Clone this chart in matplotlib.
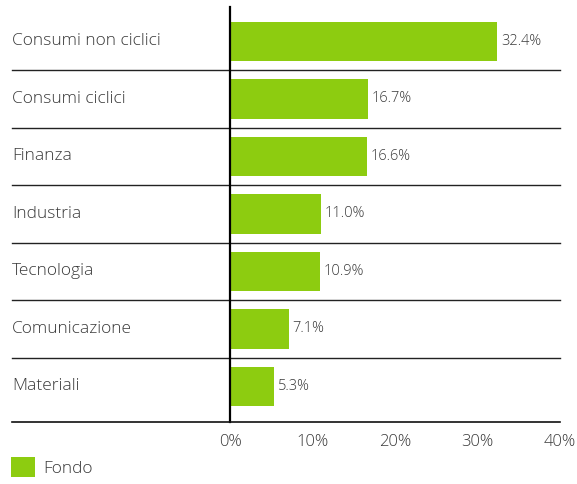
import matplotlib
matplotlib.use("Agg")
import matplotlib.pyplot as plt
import matplotlib.transforms as mtransforms

categories = ["Consumi non ciclici", "Consumi ciclici", "Finanza", "Industria",
              "Tecnologia", "Comunicazione", "Materiali"]
values = [32.4, 16.7, 16.6, 11.0, 10.9, 7.1, 5.3]
xticks = [0, 10, 20, 30, 40]
xtick_labels = ["0%", "10%", "20%", "30%", "40%"]
series_name = "Fondo"

plt.rcParams['font.family'] = ['Open Sans', 'DejaVu Sans']
TEXT = "#3a3a3a"
GREEN = "#8DCC10"

W, H = 577, 484
fig = plt.figure(figsize=(W / 100, H / 100), dpi=100)
ax = fig.add_axes([230 / W, 1 - 422 / H, 330 / W, 415 / H])

ypos = list(range(len(categories)))
bars = ax.barh(ypos, values, height=0.69, color=GREEN, label=series_name, zorder=2)
ax.set_xlim(0, 40)
ax.set_ylim(6.62, -0.6)

for y, v in zip(ypos, values):
    ax.annotate(f"{v:.1f}%", (v, y), xytext=(3, 0), textcoords="offset points",
                va="center", ha="left", fontsize=10.5, color=TEXT, fontweight="light")

# separators between categories, extending to the left of the axis
left_frac = (12 - 230) / 330
for i in range(len(categories) - 1):
    ax.axhline(i + 0.5, xmin=left_frac, xmax=1, color="#222222", lw=1.0, clip_on=False, zorder=1)
ax.axhline(6.62, xmin=left_frac, xmax=1, color="#111111", lw=1.2, clip_on=False, zorder=3)

# category labels, left aligned at x=12px
trans = mtransforms.blended_transform_factory(fig.transFigure, ax.transData)
for y, c in zip(ypos, categories):
    ax.text(12 / W, y, c, transform=trans, ha="left", va="center", fontsize=12.5,
            color=TEXT, fontweight="light")

for s in ["top", "right", "bottom"]:
    ax.spines[s].set_visible(False)
ax.spines["left"].set_linewidth(1.6)
ax.spines["left"].set_color("#000000")
ax.set_yticks([])
ax.set_xticks(xticks)
ax.set_xticklabels(xtick_labels, fontsize=12, color=TEXT, fontweight="light")
ax.tick_params(axis="x", length=0, pad=9)

leg = fig.legend(handles=[bars], labels=[series_name], loc="upper left",
                 bbox_to_anchor=(11 / W, 1 - 457 / H), frameon=False,
                 borderpad=0, borderaxespad=0,
                 handlelength=1.38, handleheight=1.38, handletextpad=0.46,
                 labelcolor=TEXT, prop={'weight': 'light', 'size': 12.5})

fig.savefig("out.png", dpi=100)
